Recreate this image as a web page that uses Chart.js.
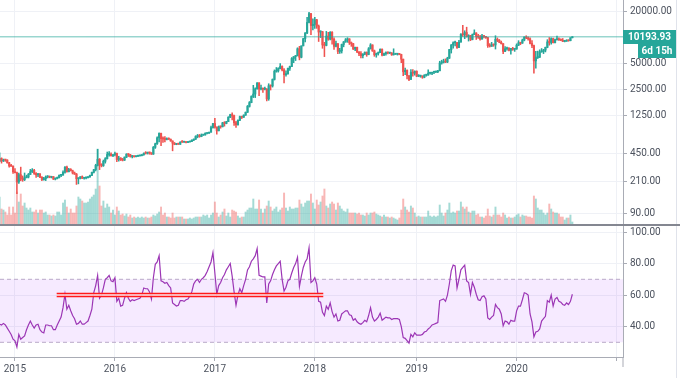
<!DOCTYPE html>
<html><head><meta charset="utf-8">
<script src="https://cdn.jsdelivr.net/npm/chart.js@4.4.0/dist/chart.umd.min.js"></script>
<style>
html,body{margin:0;padding:0;background:#fff;overflow:hidden}
#wrap{position:relative;width:680px;height:378px}
canvas{position:absolute;left:0;display:block}
#top{top:0}
#bot{top:225px}
</style></head><body>
<div id="wrap"><canvas id="top" width="680" height="225"></canvas><canvas id="bot" width="680" height="153"></canvas></div>
<script>
// Weekly BTC/USD candles, week 0 = 10 Nov 2014 ... week 298 = 27 Jul 2020
const OPEN = [363,390,366,376,375,348,320,318,274,267,208,253,226,222,234,238,255,275,285,262,252,255,236,222,227,238,242,236,240,225,229,233,249,250,270,310,274,292,281,265,257,227,230,240,230,232,233,240,248,270,290,325,383,330,323,362,389,435,438,422,434,448,380,395,376,374,405,438,434,412,413,410,416,420,422,432,450,449,459,455,440,527,580,680,765,665,660,650,665,655,625,590,570,580,572,607,606,610,600,610,616,640,655,705,705,703,732,735,765,770,790,895,998,905,820,920,915,1015,1000,1050,1180,1265,1230,1020,965,1090,1200,1180,1250,1350,1580,1750,2060,2200,2530,2960,2520,2550,2500,2510,1930,2750,2730,3250,4050,4100,4350,4600,4200,3700,3780,4390,4600,5700,6000,6150,7400,5900,8000,9700,11300,15000,19000,13800,14200,16100,13600,11600,11700,8200,8100,10400,9600,11500,9550,7900,8500,6900,7000,8300,8900,9400,9650,8700,8500,7350,7700,6800,6500,6150,6400,6750,6350,7400,8200,7000,6300,6500,6700,7300,6250,6500,6700,6600,6600,6300,6400,6400,6450,6350,5600,4000,4150,3600,3250,3950,3850,4050,3550,3550,3550,3450,3650,3650,3850,3850,3950,3980,4000,4100,5050,5150,5300,5200,5750,7250,8200,8700,8730,7650,8850,10900,10800,11450,10250,10550,9500,10800,11300,10300,10150,9600,10400,10300,10000,8050,7900,8300,8200,9550,9300,8800,8500,6900,7400,7500,7100,7500,7300,7350,8150,8700,8600,9350,10150,9900,9650,8550,8050,5350,5850,5900,6800,6900,7150,7700,8900,8750,9700,8700,9450,9650,9400,9300,9000,9050,9300,9200,9950];
const HIGH = [455,398,385,382,378,352,335,322,298,272,265,310,245,265,250,262,292,298,292,268,262,262,240,236,245,247,245,243,241,232,238,252,252,280,315,318,300,298,286,272,262,233,240,245,235,238,240,250,272,292,335,500,390,340,375,400,465,470,455,435,464,452,415,400,392,408,445,444,437,423,420,420,425,425,433,454,470,465,462,456,540,590,700,780,770,700,705,680,680,660,628,600,583,590,612,630,612,612,613,620,646,660,720,745,745,755,745,780,775,795,935,1000,1150,915,935,930,1030,1050,1060,1200,1280,1330,1250,1060,1100,1215,1215,1260,1360,1620,1800,2100,2780,2600,3000,2990,2800,2600,2650,2550,2900,2800,3300,4200,4480,4450,4980,4700,4350,4100,4400,4650,5850,6000,6200,7600,7900,8000,9800,11400,17200,19700,19200,16500,17200,16300,14000,12000,11800,8800,11800,11500,11700,11700,9900,9100,8500,7500,8400,9000,9750,9950,9700,8880,8550,7750,7750,6850,6850,6500,6800,6800,7650,8500,8250,7150,6600,6800,7400,7400,6600,6800,6800,6700,6700,7400,6500,6500,6550,6400,5600,4400,4200,3600,4250,4250,4100,4100,3700,3650,3600,3700,3700,4200,3900,3950,4000,4050,4150,5300,5450,5600,5650,5900,7300,8300,8900,9100,8800,9300,11100,13880,12000,13200,10800,10600,11000,12300,11400,10900,10600,10900,10450,10350,10050,8500,8800,8400,10500,9900,9500,9100,8500,7850,7750,7650,7500,7700,7500,8450,9200,8800,9600,10200,10500,10200,9950,9200,8150,6900,6950,7200,7450,7300,7750,9450,10000,9950,9850,9600,10400,9950,9650,9750,9300,9450,9350,9950,10250];
const LOW = [360,345,360,362,345,310,315,262,265,152,200,215,212,216,232,232,254,268,255,236,240,233,215,218,216,232,233,232,222,220,226,232,240,250,264,270,272,280,258,255,195,198,226,228,224,226,232,235,246,265,280,320,290,312,316,345,385,415,415,410,420,360,364,370,366,370,400,412,405,398,406,407,411,416,418,426,440,440,438,435,436,512,570,610,550,600,610,645,650,620,480,565,565,570,570,600,602,592,598,606,615,630,650,680,690,700,725,730,755,765,790,880,880,750,820,880,910,930,990,1050,1170,1100,950,900,955,1080,1140,1175,1240,1340,1550,1740,2000,2000,2500,2100,2450,2300,2450,1830,1860,2450,2650,3200,3950,3960,4300,4100,2970,3560,3750,4150,4580,5100,5400,6100,5500,5800,8000,8900,11100,14800,10800,12300,12750,12800,9000,10000,7500,6000,8000,9300,9400,8400,7300,7800,6500,6550,6600,7800,8800,8800,8300,7900,7250,7050,6650,6150,5800,5800,6300,6050,6300,7350,6900,6050,5900,6250,6650,6100,6150,6250,6450,6500,6200,6250,6350,6250,6300,5100,3600,3700,3300,3150,3250,3550,3650,3500,3500,3450,3350,3400,3550,3650,3750,3700,3800,3900,3900,4100,4900,5050,5100,5100,5700,6600,7500,8000,7450,7600,8850,10300,9700,10100,9100,9200,9400,10800,9500,9800,9350,9600,9900,9800,7700,7750,7900,7900,7350,8950,8700,8400,6500,6850,7150,7000,6400,7100,6900,7300,8050,8250,8550,9150,9700,9300,8450,7650,3850,4400,5700,5850,6750,6500,6800,7600,8150,8350,8650,8650,9350,9250,9200,8950,8900,9050,9050,9150,9900];
const CLOSE = [390,366,376,375,348,320,318,274,267,208,253,226,222,234,238,255,275,285,262,252,255,236,222,227,238,242,236,240,225,229,233,249,250,270,310,274,292,281,265,257,227,230,240,230,232,233,240,248,270,290,325,383,330,323,362,389,435,438,422,434,448,380,395,376,374,405,438,434,412,413,410,416,420,422,432,450,449,459,455,440,527,580,680,765,665,660,650,665,655,625,590,570,580,572,607,606,610,600,610,616,640,655,705,705,703,732,735,765,770,790,895,998,905,820,920,915,1015,1000,1050,1180,1265,1230,1020,965,1090,1200,1180,1250,1350,1580,1750,2060,2200,2530,2960,2520,2550,2500,2510,1930,2750,2730,3250,4050,4100,4350,4600,4200,3700,3780,4390,4600,5700,6000,6150,7400,5900,8000,9700,11300,15000,19000,13800,14200,16100,13600,11600,11700,8200,8100,10400,9600,11500,9550,7900,8500,6900,7000,8300,8900,9400,9650,8700,8500,7350,7700,6800,6500,6150,6400,6750,6350,7400,8200,7000,6300,6500,6700,7300,6250,6500,6700,6600,6600,6300,6400,6400,6450,6350,5600,4000,4150,3600,3250,3950,3850,4050,3550,3550,3550,3450,3650,3650,3850,3850,3950,3980,4000,4100,5050,5150,5300,5200,5750,7250,8200,8700,8730,7650,8850,10900,10800,11450,10250,10550,9500,10800,11300,10300,10150,9600,10400,10300,10000,8050,7900,8300,8200,9550,9300,8800,8500,6900,7400,7500,7100,7500,7300,7350,8150,8700,8600,9350,10150,9900,9650,8550,8050,5350,5850,5900,6800,6900,7150,7700,8900,8750,9700,8700,9450,9650,9400,9300,9000,9050,9300,9200,9950,10193.93];
// relative weekly volume
const VOLUME = [27,15,14,12,9,17,9,17,11,32,22,30,18,21,16,14,16,12,12,14,11,14,14,11,12,9,9,8,9,8,12,12,9,21,24,17,11,15,11,11,18,27,25,23,21,21,22,25,27,29,35,75,38,18,23,16,20,17,11,14,9,17,13,9,10,8,10,7,9,6,7,6,7,6,7,6,7,6,6,7,9,8,10,12,17,9,11,7,7,6,11,6,7,7,7,7,5,5,5,6,5,6,7,7,7,7,9,8,9,6,9,11,22,11,7,9,12,15,8,11,7,14,13,12,8,6,7,7,12,14,16,16,25,15,15,24,15,11,15,18,23,17,13,15,17,12,14,16,31,16,13,17,15,15,16,16,24,20,17,21,23,23,30,21,15,24,19,22,28,35,18,16,20,22,20,14,21,18,15,13,12,15,11,11,11,11,10,11,9,9,8,11,9,11,11,12,10,9,8,7,9,7,7,6,7,6,5,4,6,14,25,17,14,12,18,16,11,7,8,7,7,7,7,13,8,7,8,7,8,19,11,8,11,14,21,11,12,11,13,13,22,17,15,17,12,11,13,13,9,10,7,7,6,8,15,8,7,9,17,9,9,7,11,9,6,7,6,6,7,9,10,7,9,8,8,7,7,6,28,25,16,14,14,11,9,11,20,15,12,11,11,10,7,7,4,6,6,9,2];
// weekly RSI
const RSI = [41.5,41,42,41,39,37,35,32,31,27,35,32,33,34,38,41,43.5,41,39,41,41.5,38,36.5,36,41,41,40.5,40.5,38,38,41,43.5,46,52,60.5,51,53.5,50,47,45,41.5,42,43.5,41.5,41.5,42.5,43.5,47,51,61.5,66,72.5,58,60,64.5,70,71,72.5,69,68.5,71,56,58,53,53.5,58,61.5,58,56,57,56.5,57,57.5,58,60,64.5,64,64,62,57.5,71,79.5,81,85,69,68.5,67.5,68,66,64.5,55,54,53,53.5,56.5,56.5,56,57,57.5,59.5,62,67,69,70,68,70,71,72.5,75,78,81,87,74,60.5,66,68,71,73,76,78,80,72,62,53.5,60,64,61.5,66,70,76,78,81.5,83,85,89.5,72.5,72,71.5,71.5,55,67,69,73,76,78.5,80,81.5,70,62.5,65,69,70,74,77.5,80,84,65.5,72,77.5,81,83,90,68,69,71,67,56,55.5,49,47,53,51,55,49.5,46,48,43.5,44,48,49,50,50,47.5,47,44,45,43,42,41.5,42.5,44,43,47,52,46,43.5,44.5,46,48.5,44,45,46,45.5,45.5,44.5,45,45,45,44.5,40,33,32.5,31,29.5,35,33.5,36,34.5,34.5,34.5,35,36.5,37,38.5,39.5,41,41.5,42,42.5,56.5,57,57.5,56,60,67,75.5,79,78.5,64.5,70,76,77.5,79,69,68,60.5,68,65,60.5,57,56.5,59,59.5,57.5,45.5,44.5,46,47,54,52,51,48,40.5,43.5,43,41.5,44,43.5,43.5,50,53,53,57,61.5,61,60,48,43,33.5,36.5,37,38.5,43.5,45,46.5,56.5,55.5,60,53,57.5,58.5,56,55.5,54,53.5,55,54,56,60.5];
const PRICE_TICKS = [90,210,450,1250,2500,5000,20000];
const RSI_TICKS = [40,60,80,100];
const YEAR_POS = [8,60,112,164,217,269,321];       // first weekly bar of each year
const YEAR_LABELS = ['2015','2016','2017','2018','2019','2020',''];
const RED_ZONE = {from:29.7, to:168.4, top:61, bottom:59.1};
const LAST = CLOSE[CLOSE.length-1];
const COUNTDOWN = '6d 15h';

const XMIN = 0.208, XMAX = 324.35;
const PMIN = 67.5, PMAX = 27370;
const RMIN = 20.67, RMAX = 103.84;
const UP = '#26a69a', DOWN = '#ef5350';
const UPV = 'rgba(38,166,154,0.42)', DOWNV = 'rgba(239,83,80,0.42)';
const GRID = '#eff1f6', AXIS = '#a9acb5', TXT = '#4c525e';
const FONT = {family:'Roboto', size:10};

const candleCol = CLOSE.map((c,i)=> c>=OPEN[i] ? UP : DOWN);
const volCol = CLOSE.map((c,i)=> c>=OPEN[i] ? UPV : DOWNV);

const noPad = s => { s.paddingTop = 0; s.paddingBottom = 0; s.paddingLeft = 0; s.paddingRight = 0; };

const topDeco = {
  id:'topDeco',
  afterDraw(chart){
    const ctx = chart.ctx, y = chart.scales.y.getPixelForValue(LAST);
    ctx.save();
    ctx.fillStyle = '#848791'; ctx.fillRect(0, 224, 680, 1);
    ctx.fillStyle = '#e0e3eb'; ctx.fillRect(676, 0, 1, 224);
    const yy = Math.round(y);
    ctx.fillStyle = UP;
    ctx.fillRect(623, yy-7, 53, 14);
    ctx.fillRect(638, yy+7, 38, 14);
    ctx.fillStyle = '#fff'; ctx.font = 'bold 10px Roboto';
    ctx.textAlign = 'center'; ctx.textBaseline = 'middle';
    ctx.fillText(LAST.toFixed(2), 649.5, yy+0.5);
    ctx.fillText(COUNTDOWN, 657, yy+14.5);
    ctx.restore();
  }
};
const botDeco = {
  id:'botDeco',
  afterDraw(chart){
    const ctx = chart.ctx;
    ctx.save();
    ctx.fillStyle = '#848791'; ctx.fillRect(0, 0, 680, 1);
    ctx.fillStyle = '#e0e3eb'; ctx.fillRect(676, 1, 1, 152);
    ctx.fillStyle = AXIS; ctx.fillRect(622.5, 132, 1, 10);
    ctx.restore();
  }
};

new Chart(document.getElementById('top'), {
  type:'bar',
  data:{datasets:[
    {type:'line', data:[{x:XMIN,y:LAST},{x:XMAX,y:LAST}], borderColor:'rgba(38,166,154,0.7)', borderWidth:1, pointRadius:0, order:0, yAxisID:'y'},
    {data:OPEN.map((o,i)=>({x:i,y:[o,CLOSE[i]]})), backgroundColor:candleCol, barThickness:1.5, minBarLength:1, grouped:false, order:1, yAxisID:'y'},
    {data:LOW.map((l,i)=>({x:i,y:[l,HIGH[i]]})), backgroundColor:candleCol, barThickness:0.9, grouped:false, order:2, yAxisID:'y'},
    {data:VOLUME.map((v,i)=>({x:i,y:v})), backgroundColor:volCol, barThickness:1.3, grouped:false, order:3, yAxisID:'yv'}
  ]},
  options:{
    responsive:false, animation:false, devicePixelRatio:1,
    layout:{padding:{top:0,right:0,bottom:1,left:0}},
    plugins:{legend:{display:false}, tooltip:{enabled:false}},
    scales:{
      x:{type:'linear', min:XMIN, max:XMAX, offset:false,
        grid:{color:GRID, drawTicks:false, offset:false}, border:{display:false},
        ticks:{display:false},
        afterBuildTicks:s=>{ s.ticks = YEAR_POS.map(v=>({value:v})); },
        afterFit:s=>{ s.height = 0; noPad(s); }},
      y:{type:'logarithmic', position:'right', min:PMIN, max:PMAX,
        grid:{color:GRID, tickLength:4, tickColor:AXIS}, border:{color:AXIS},
        ticks:{font:FONT, color:TXT, padding:3, autoSkip:false, callback:v=>Number(v).toFixed(2)},
        afterBuildTicks:s=>{ s.ticks = PRICE_TICKS.map(v=>({value:v})); },
        afterFit:s=>{ s.width = 57; noPad(s); }},
      yv:{type:'linear', display:false, min:0, max:224}
    }
  },
  plugins:[topDeco]
});

new Chart(document.getElementById('bot'), {
  type:'line',
  data:{datasets:[
    {data:RSI.map((v,i)=>({x:i,y:v})), borderColor:'#9c36b5', borderWidth:1.2, pointRadius:0, tension:0, order:1},
    {data:[{x:RED_ZONE.from,y:RED_ZONE.top},{x:RED_ZONE.to,y:RED_ZONE.top}], borderColor:'#ff1a1a', borderWidth:1.4, pointRadius:0, order:-1},
    {data:[{x:RED_ZONE.from,y:RED_ZONE.bottom},{x:RED_ZONE.to,y:RED_ZONE.bottom}], borderColor:'#ff1a1a', borderWidth:1.4, pointRadius:0, order:-1, fill:'-1', backgroundColor:'rgba(255,235,240,0.9)'},
    {data:[{x:XMIN,y:70},{x:XMAX,y:70}], borderColor:'#b9a9c9', borderDash:[4,3], borderWidth:1, pointRadius:0, order:5},
    {data:[{x:XMIN,y:30},{x:XMAX,y:30}], borderColor:'#b9a9c9', borderDash:[4,3], borderWidth:1, pointRadius:0, order:6, fill:'-1', backgroundColor:'rgba(153,21,255,0.09)'}
  ]},
  options:{
    responsive:false, animation:false, devicePixelRatio:1,
    layout:{padding:{top:1,right:0,bottom:0,left:0}},
    plugins:{legend:{display:false}, tooltip:{enabled:false}},
    scales:{
      x:{type:'linear', min:XMIN, max:XMAX, offset:false,
        grid:{color:GRID, tickLength:4, tickColor:AXIS}, border:{color:AXIS},
        ticks:{font:FONT, color:TXT, padding:2, autoSkip:false, maxRotation:0, callback:(v,i)=>YEAR_LABELS[i]},
        afterBuildTicks:s=>{ s.ticks = YEAR_POS.map(v=>({value:v})); },
        afterFit:s=>{ s.height = 21; noPad(s); }},
      y:{type:'linear', position:'right', min:RMIN, max:RMAX,
        grid:{color:GRID, tickLength:4, tickColor:AXIS}, border:{color:AXIS},
        ticks:{font:FONT, color:TXT, padding:3, autoSkip:false, callback:v=>Number(v).toFixed(2)},
        afterBuildTicks:s=>{ s.ticks = RSI_TICKS.map(v=>({value:v})); },
        afterFit:s=>{ s.width = 57; noPad(s); }}
    }
  },
  plugins:[botDeco]
});
</script>
</body></html>
